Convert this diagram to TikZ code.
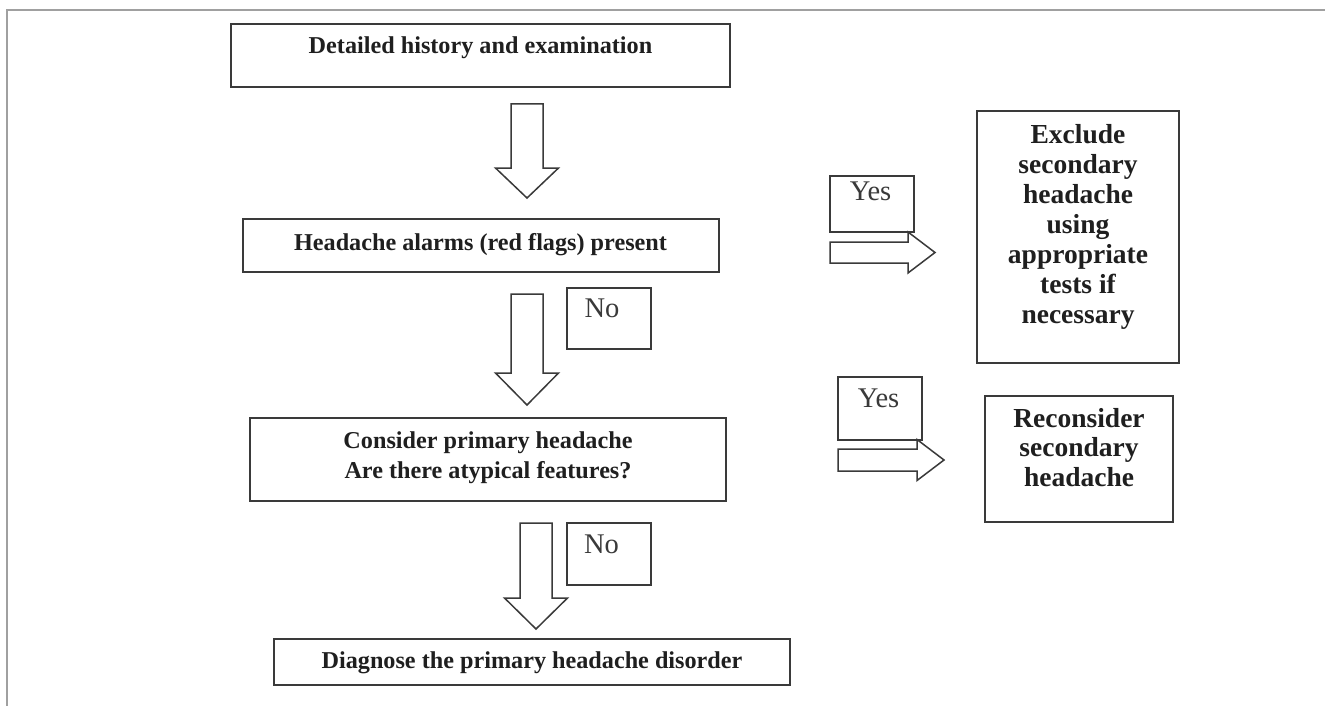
\documentclass[tikz,border=0pt]{standalone}
\usepackage{fontspec}
\setmainfont{Liberation Serif}
\definecolor{boxc}{HTML}{3A3A3A}
\definecolor{framec}{HTML}{A0A0A0}
\newcommand\downblock[4]{% x centre, y top, y shoulder, y tip
  \draw[blk] (#1-16,#2) -- (#1+16,#2) -- (#1+16,#3) -- (#1+31.5,#3) -- (#1,#4)
    -- (#1-31.5,#3) -- (#1-16,#3) -- cycle;}
\newcommand\rightblock[5]{% y centre, x left, x shoulder, x tip, shaft half height
  \draw[blk] (#2,#1-#5) -- (#3,#1-#5) -- (#3,#1-20.5) -- (#4,#1) -- (#3,#1+20.5)
    -- (#3,#1+#5) -- (#2,#1+#5) -- cycle;}
\begin{document}
\begin{tikzpicture}[x=1pt,y=-1pt,
  box/.style={draw=boxc, line width=1.8pt, inner sep=0pt, fill=white},
  lbl/.style={font=\fontsize{24.2}{30}\selectfont\bfseries, text=black!88, anchor=base, inner sep=0pt},
  sidelbl/.style={lbl, font=\fontsize{27.5}{30}\selectfont\bfseries},
  yn/.style={font=\fontsize{28.5}{30}\selectfont, text=boxc, anchor=base, inner sep=0pt},
  blk/.style={draw=boxc, line width=1.5pt, line join=miter, fill=white}]
\useasboundingbox[fill=white] (0,0) rectangle (1325,706);
\draw[framec, line width=1.5pt] (7,706) -- (7,10) -- (1325,10);

% main boxes
\node[box, minimum width=499pt, minimum height=63pt] (b1) at (480.5,55.5) {};
\node[box, minimum width=476pt, minimum height=53pt] (b2) at (481,245.5) {};
\node[box, minimum width=476pt, minimum height=83pt] (b3) at (488,459.5) {};
\node[box, minimum width=516pt, minimum height=46pt] (b4) at (532,662) {};
\node[box, minimum width=202pt, minimum height=252pt] (ex) at (1078,237) {};
\node[box, minimum width=188pt, minimum height=126pt] (re) at (1079,459) {};

% label boxes
\node[box, minimum width=84pt, minimum height=56pt] (yes1) at (872,204) {};
\node[box, minimum width=84pt, minimum height=63pt] (yes2) at (880,408.5) {};
\node[box, minimum width=84pt, minimum height=61pt] (no1) at (609,318.5) {};
\node[box, minimum width=84pt, minimum height=62pt] (no2) at (609,554) {};

% texts
\node[lbl] (t1) at (480.5,54) {Detailed history and examination};
\node[lbl] (t2) at (480.5,250) {Headache alarms (red flags) present};
\node[lbl] (t3) at (488,448) {\begin{tabular}[t]{@{}c@{}}Consider primary headache\\Are there atypical features?\end{tabular}};
\node[lbl] (t4) at (532,668) {Diagnose the primary headache disorder};
\node[sidelbl] (tex) at (1078,143) {\begin{tabular}[t]{@{}c@{}}Exclude\\secondary\\headache\\using\\appropriate\\tests if\\necessary\end{tabular}};
\node[sidelbl, font=\fontsize{27.5}{29.5}\selectfont\bfseries] (tre) at (1079,427) {\begin{tabular}[t]{@{}c@{}}Reconsider\\secondary\\headache\end{tabular}};
\node[yn] (ty1) at (870.5,200) {Yes};
\node[yn] (ty2) at (878.5,407) {Yes};
\node[yn] (tn1) at (602,317) {No};
\node[yn] (tn2) at (601.5,553) {No};

% block arrows
\downblock{527}{104}{168}{198}
\downblock{527}{294}{373}{405}
\downblock{536}{523}{598}{629}
\rightblock{252.5}{830}{908}{935}{10.5}
\rightblock{460}{838}{917}{944}{11}
\end{tikzpicture}
\end{document}
